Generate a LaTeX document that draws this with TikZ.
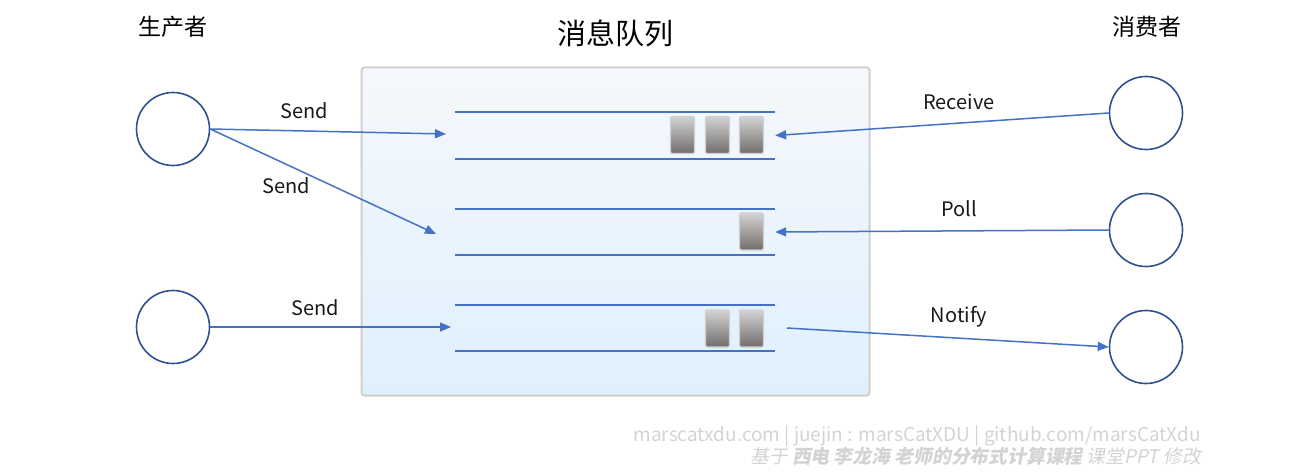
\documentclass[tikz,border=0pt]{standalone}
\usepackage{fontspec}
\setmainfont{Noto Sans CJK SC}
\newfontfamily\markfont{Noto Sans CJK SC}[FakeSlant=0.2]
\usepackage{tikz}
\usetikzlibrary{positioning,arrows.meta}
\definecolor{qblue}{HTML}{4472C4}
\definecolor{cblue}{HTML}{2F528F}
\definecolor{boxgray}{HTML}{D0D0D0}
\definecolor{boxtop}{HTML}{F5F8FC}
\definecolor{boxbottom}{HTML}{DFF0FD}
\definecolor{msgtop}{HTML}{D4D2D2}
\definecolor{msgbottom}{HTML}{716D6D}
\definecolor{markgray}{HTML}{D3D3D3}
\begin{document}
\begin{tikzpicture}[x=1pt,y=-1pt,
endnode/.style={circle, draw=cblue, line width=1.6pt, minimum size=73pt, inner sep=0pt},
msgnode/.style={rectangle, draw=boxgray, line width=1.2pt, rounded corners=2pt, top color=msgtop, bottom color=msgbottom, minimum width=24pt, minimum height=37pt, inner sep=0pt},
queuenode/.style={rectangle, minimum width=320pt, minimum height=46pt, inner sep=0pt},
qline/.style={qblue, line width=2pt},
flow/.style={qblue, line width=1.5pt, -{Triangle[length=11pt,width=9pt]}},
flowlabel/.style={font=\fontsize{20}{24}\selectfont, text=black!90},
headlabel/.style={font=\fontsize{23}{28}\selectfont, text=black},
marklabel/.style={anchor=east, text=markgray, inner sep=0pt},
]
\useasboundingbox (0,0) rectangle (1312,476);

%Queue box
\node[rectangle, draw=boxgray, line width=2pt, rounded corners=3pt, top color=boxtop, bottom color=boxbottom,
      minimum width=508pt, minimum height=328pt, inner sep=0pt] (mq) at (615.5,231.5) {};
\node[font=\fontsize{29}{34}\selectfont] (mqtitle) at (615,33) {消息队列};

%Queues
\node[queuenode] (q1) at (615,135.5) {};
\node[queuenode] (q2) at (615,232) {};
\node[queuenode] (q3) at (615,328) {};
\draw[qline] (q1.north west) -- (q1.north east);
\draw[qline] (q1.south west) -- (q1.south east);
\draw[qline] (q2.north west) -- (q2.north east);
\draw[qline] (q2.south west) -- (q2.south east);
\draw[qline] (q3.north west) -- (q3.north east);
\draw[qline] (q3.south west) -- (q3.south east);

%Messages
\node[msgnode] (m11) at (682.5,135) {};
\node[msgnode] (m12) at (717.5,135) {};
\node[msgnode] (m13) at (751.5,135) {};
\node[msgnode] (m21) at (751.5,231.5) {};
\node[msgnode] (m31) at (717.5,328.5) {};
\node[msgnode] (m32) at (751.5,328.5) {};

%Producers and consumers
\node[headlabel] (prodlabel) at (173,27) {生产者};
\node[endnode] (p1) at (173,129) {};
\node[endnode] (p2) at (173,327) {};
\node[headlabel] (conslabel) at (1147,27) {消费者};
\node[endnode] (c1) at (1146,113) {};
\node[endnode] (c2) at (1146,230) {};
\node[endnode] (c3) at (1146,347) {};

\coordinate (q1in) at (446,134);
\coordinate (q2in) at (436,234);
\coordinate (q3in) at (451,327);
\coordinate (q3out) at (787,328);

%Lines
\draw[flow] (p1.east) -- (q1in);
\draw[flow] (p1.east) -- (q2in);
\draw[flow] (p2.east) -- (q3in);
\draw[flow] (c1.west) -- (q1.east);
\draw[flow] (c2.west) -- (q2.east);
\draw[flow] (q3out) -- (c3.west);

\node[flowlabel] (send1) at (304,111) {Send};
\node[flowlabel] (send2) at (286,186) {Send};
\node[flowlabel] (send3) at (315,308) {Send};
\node[flowlabel] (receive) at (959,102) {Receive};
\node[flowlabel] (poll) at (959,209) {Poll};
\node[flowlabel] (notify) at (959,317) {Notify};

%Watermark
\node[marklabel, font=\fontsize{19}{22}\selectfont] (mark1) at (1201,436) {marscatxdu.com | juejin : marsCatXDU | github.com/marsCatXdu};
\node[marklabel, font=\fontsize{18.8}{22}\markfont] (mark2) at (1201,456) {基于 \textbf{西电 李龙海 老师的分布式计算课程} 课堂PPT 修改};
\end{tikzpicture}
\end{document}
